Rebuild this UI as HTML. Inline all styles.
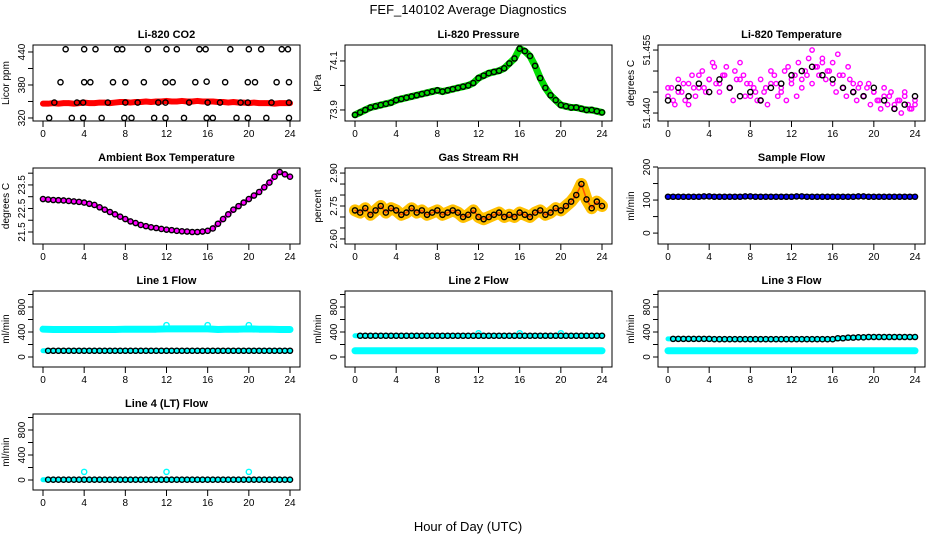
<!DOCTYPE html>
<html><head><meta charset="utf-8"><style>
html,body{margin:0;padding:0;background:#fff;}
svg{display:block;font-family:"Liberation Sans",sans-serif;}
</style></head><body>
<svg id="chart" width="936" height="540" viewBox="0 0 936 540" xmlns="http://www.w3.org/2000/svg">
<text x="468" y="14" text-anchor="middle" font-size="13">FEF_140102  Average Diagnostics</text>
<text x="468" y="531" text-anchor="middle" font-size="13">Hour of Day (UTC)</text>
</svg>
<script>
// ---- data arrays ----
const xTicks = [0,4,8,12,16,20,24];
const co2Red = [346,346,347,346,347,347,346,347,348,347,347,348,348,347,348,349,349,348,349,349,350,349,350,350,351,350,350,351,350,350,351,350,350,350,349,349,348,349,348,348,347,348,347,347,347,346,347,347,347];
const co2BlackT = [2.2,4,5.1,7.2,7.7,10.2,12,13,15.2,15.8,18.2,20,21.2,23.2,23.8, 1.7,4,4.6,6.8,8,9.8,11.9,12.6,14.8,15.9,17.7,19.9,20.6,22.7,23.9, 1.1,3.3,3.9,6.3,8,9.2,11.2,11.9,14.2,16,17.2,19.2,19.9,22.2,23.9, 0.6,2.8,3.9,5.7,7.9,8.6,10.8,11.9,13.7,15.9,16.5,18.8,19.9,21.7,23.9];
const co2BlackV = [445,445,445,445,445,445,445,445,445,445,445,445,445,445,445, 385,385,385,385,385,385,385,385,385,386,385,385,385,385,385, 348,348,348,348,348,348,348,348,348,348,348,348,348,348,348, 320,320,320,320,320,320,320,320,320,320,320,320,320,320,320];
const pressG = [73.88,73.89,73.90,73.91,73.915,73.92,73.925,73.93,73.94,73.945,73.95,73.955,73.96,73.965,73.97,73.975,73.98,73.975,73.98,73.985,73.99,73.995,74.0,74.01,74.03,74.04,74.05,74.055,74.06,74.07,74.09,74.11,74.15,74.14,74.12,74.08,74.03,73.99,73.96,73.94,73.92,73.915,73.91,73.91,73.905,73.90,73.90,73.895,73.89];
const tempM = [51.444,51.446,51.442,51.448,51.445,51.443,51.447,51.449,51.444,51.446,51.450,51.445,51.448,51.452,51.447,51.445,51.449,51.451,51.446,51.443,51.448,51.452,51.449,51.447,51.444,51.446,51.443,51.448,51.445,51.442,51.447,51.449,51.444,51.446,51.450,51.451,51.447,51.449,51.452,51.448,51.450,51.453,51.455,51.451,51.449,51.452,51.448,51.450,51.447,51.445,51.449,51.446,51.444,51.448,51.445,51.443,51.447,51.444,51.446,51.442,51.445,51.443,51.441,51.444,51.442,51.445,51.441,51.443,51.440,51.444,51.442,51.441,51.443];
const tempM2 = [51.446,51.443,51.445,51.447,51.442,51.446,51.449,51.446,51.448,51.451,51.447,51.449,51.446,51.450,51.448,51.444,51.447,51.445,51.443,51.446,51.450,51.447,51.445,51.443,51.448,51.444,51.446,51.449,51.447,51.451,51.453,51.450,51.452,51.454,51.449,51.451,51.447,51.446,51.444,51.447,51.445,51.443,51.446,51.444,51.442,51.443,51.445,51.441,51.442];
const tempK = [51.443,51.446,51.444,51.447,51.445,51.448,51.446,51.444,51.445,51.443,51.446,51.447,51.449,51.450,51.451,51.449,51.448,51.446,51.445,51.444,51.446,51.443,51.441,51.442,51.444];
const ambient = [22.9,22.88,22.86,22.85,22.84,22.82,22.8,22.78,22.75,22.7,22.65,22.55,22.45,22.35,22.25,22.15,22.05,21.95,21.88,21.8,21.75,21.7,21.67,21.63,21.6,21.58,21.55,21.53,21.52,21.5,21.5,21.52,21.55,21.65,21.85,22.05,22.25,22.45,22.6,22.75,22.9,23.05,23.2,23.4,23.6,23.85,24.05,23.95,23.85];
const rh = [2.73,2.72,2.74,2.71,2.73,2.75,2.72,2.74,2.73,2.71,2.72,2.74,2.72,2.73,2.71,2.72,2.73,2.71,2.72,2.73,2.72,2.70,2.71,2.73,2.70,2.69,2.70,2.71,2.72,2.70,2.71,2.70,2.72,2.71,2.70,2.72,2.73,2.71,2.72,2.74,2.73,2.75,2.77,2.80,2.85,2.78,2.74,2.77,2.75];
const sampleFlow = [110,110,110,110,111,110,110,110,111,110,110,110,110,111,110,110,110,110,110,111,110,110,110,110,110];
const line1Cyan = [445,440,440,440,440,440,440,440,445,445,445,445,450,450,450,450,450,440,445,445,450,445,445,440,440];
const line1Black = [100,100,100,100,100,100,100,100,100,100,100,100,100,100,100,100,100,100,100,100,100,100,100,100,100];
const line2Black = [340,340,340,340,340,340,340,340,340,340,340,340,340,340,340,340,340,340,340,340,340,340,340,340,340];
const line2Cyan = [100,100,100,100,100,100,100,100,100,100,100,100,100,100,100,100,100,100,100,100,100,100,100,100,100];
const line3Black = [290,290,290,290,290,285,285,285,285,285,285,285,285,285,285,285,285,300,310,315,320,320,320,320,320];
const line3Cyan = [100,100,100,100,100,100,100,100,100,100,100,100,100,100,100,100,100,100,100,100,100,100,100,100,100];
const line4Black = [5,5,5,5,5,5,5,5,5,5,5,5,5,5,5,5,5,5,5,5,5,5,5,5,5];
const spikeT = [12,16,20];
const line1Spike = [510,510,510];
const line2Spike = [380,380,380];
const spike4T = [4,12,20];
const line4Spike = [130,130,130];

// ---- drawing ----
const svg = document.getElementById('chart');
const NS = 'http://www.w3.org/2000/svg';
const W = 267, H = 76;
function mk(tag, attrs, parent){ const e=document.createElementNS(NS,tag); for(const k in attrs) e.setAttribute(k,attrs[k]); (parent||svg).appendChild(e); return e; }
function seqT(n){ const a=[]; for(let i=0;i<n;i++) a.push(i*24/(n-1)); return a; }

function panel(name, left, top, title, ylab, ylo, yhi, ticks, labels){
  const g = mk('g',{});
  
  
  const xs = t => left + 10 + t*247/24;
  const ys = v => top + H - (v-ylo)/(yhi-ylo)*H;
  const box = mk('rect',{x:left,y:top,width:W,height:H,fill:'none',stroke:'#000','stroke-width':1},g);
  
  
  const tt = mk('text',{x:left+W/2,y:top-7,'text-anchor':'middle','font-size':11,'font-weight':'bold'},g);
  tt.textContent = title;
  
  
  const yl = mk('text',{x:0,y:0,'text-anchor':'middle','font-size':10,transform:`translate(${left-24},${top+H/2}) rotate(-90)`},g);
  yl.textContent = ylab;
  
  
  xTicks.forEach(t=>{
    mk('line',{x1:xs(t),x2:xs(t),y1:top+H,y2:top+H+6,stroke:'#000'},g);
    const lb = mk('text',{x:xs(t),y:top+H+16,'text-anchor':'middle','font-size':10},g);
    lb.textContent = t;
    
    
  });
  ticks.forEach((v,i)=>{
    mk('line',{x1:left,x2:left-5,y1:ys(v),y2:ys(v),stroke:'#000'},g);
    if(labels[i]!==''){
      const lb = mk('text',{x:0,y:0,'text-anchor':'middle','font-size':10,transform:`translate(${left-8},${ys(v)}) rotate(-90)`},g);
      lb.textContent = labels[i];
      
      
    }
  });
  return {g, xs, ys};
}
function band(p, vals, color, width, name){
  const T = seqT(vals.length);
  const e = mk('polyline',{points:vals.map((v,i)=>p.xs(T[i])+','+p.ys(v)).join(' '),fill:'none',stroke:color,'stroke-width':width,'stroke-linejoin':'round','stroke-linecap':'round'},p.g);
  
  
}
function pts(p, T, vals, color, name, r){
  vals.forEach((v,i)=>{
    const c = mk('circle',{cx:p.xs(T[i]),cy:p.ys(v),r:r||2.6,fill:'none',stroke:color,'stroke-width':1.4},p.g);
    
    
  });
}
const C = [33,345,658], R = [45,168,291,414];
const flowTicks=[0,200,400,600,800,1000], flowLabels=['0','','400','','800',''];

let p = panel('co2-panel',C[0],R[0],'Li-820 CO2','Licor ppm',314.5,452.7,[320,350,380,410,440],['320','','380','','440']);
band(p, co2Red, '#ff0000', 6, 'co2-red-band');
pts(p, seqT(co2Red.length), co2Red, '#ff0000', 'co2-red-point', 2);
pts(p, co2BlackT, co2BlackV, '#000', 'co2-black-point');

p = panel('pressure-panel',C[1],R[0],'Li-820 Pressure','kPa',73.855,74.165,[73.9,74.0,74.1],['73.9','','74.1']);
band(p, pressG, '#00dd00', 7, 'pressure-green-band');
pts(p, seqT(pressG.length), pressG, '#000', 'pressure-black-point');

p = panel('temperature-panel',C[2],R[0],'Li-820 Temperature','degrees C',51.4381,51.4562,[51.440,51.445,51.450,51.455],['51.440','','','51.455']);
pts(p, seqT(tempM.length), tempM, '#ff00ff', 'temperature-magenta-point', 2.2);
pts(p, seqT(tempM2.length), tempM2, '#ff00ff', 'temperature-magenta-point', 2.2);
pts(p, seqT(tempK.length), tempK, '#000', 'temperature-black-point');

p = panel('ambient-panel',C[0],R[1],'Ambient Box Temperature','degrees C',20.99,24.22,[21.5,22,22.5,23,23.5,24],['21.5','','22.5','','23.5','']);
band(p, ambient, '#ff00ff', 4, 'ambient-magenta-line');
pts(p, seqT(ambient.length), ambient, '#000', 'ambient-black-point');

p = panel('rh-panel',C[1],R[1],'Gas Stream RH','percent',2.577,2.923,[2.60,2.65,2.70,2.75,2.80,2.85,2.90],['2.60','','','2.75','','','2.90']);
band(p, rh, '#ffc000', 12, 'rh-orange-band');
band(p, rh, '#ff5000', 1.5, 'rh-red-core');
pts(p, seqT(rh.length), rh, '#000', 'rh-black-point');

p = panel('sample-flow-panel',C[2],R[1],'Sample Flow','ml/min',-33,197,[0,50,100,150,200],['0','','100','','200']);
band(p, sampleFlow, '#0000ff', 5, 'sample-flow-blue-line');
pts(p, seqT(49), new Array(49).fill(0).map((_,i)=>sampleFlow[Math.round(i/2)]), '#000', 'sample-flow-black-point');

p = panel('line1-flow-panel',C[0],R[2],'Line 1 Flow','ml/min',-160,1056,flowTicks,flowLabels);
band(p, line1Cyan, '#00ffff', 7, 'line1-cyan-band');
pts(p, spikeT, line1Spike, '#00ffff', 'line1-cyan-spike');
band(p, line1Black, '#00ffff', 5, 'line1-cyan-low');
pts(p, seqT(49).slice(1), new Array(48).fill(0).map((_,i)=>line1Black[Math.round((i+1)/2)]), '#000', 'line1-black-point');

p = panel('line2-flow-panel',C[1],R[2],'Line 2 Flow','ml/min',-160,1056,flowTicks,flowLabels);
band(p, line2Cyan, '#00ffff', 7, 'line2-cyan-band');
band(p, line2Black, '#00ffff', 5, 'line2-cyan-high');
pts(p, spikeT, line2Spike, '#00ffff', 'line2-cyan-spike');
pts(p, seqT(49).slice(1), new Array(48).fill(0).map((_,i)=>line2Black[Math.round((i+1)/2)]), '#000', 'line2-black-point');

p = panel('line3-flow-panel',C[2],R[2],'Line 3 Flow','ml/min',-160,1056,flowTicks,flowLabels);
band(p, line3Cyan, '#00ffff', 7, 'line3-cyan-band');
band(p, line3Black, '#00ffff', 5, 'line3-cyan-high');
pts(p, seqT(49).slice(1), new Array(48).fill(0).map((_,i)=>line3Black[Math.round((i+1)/2)]), '#000', 'line3-black-point');

p = panel('line4-flow-panel',C[0],R[3],'Line 4 (LT) Flow','ml/min',-160,1056,flowTicks,flowLabels);
band(p, line4Black, '#00ffff', 5, 'line4-cyan-band');
pts(p, spike4T, line4Spike, '#00ffff', 'line4-cyan-spike');
pts(p, seqT(49).slice(1), new Array(48).fill(0).map((_,i)=>line4Black[Math.round((i+1)/2)]), '#000', 'line4-black-point');
</script>
</body></html>
